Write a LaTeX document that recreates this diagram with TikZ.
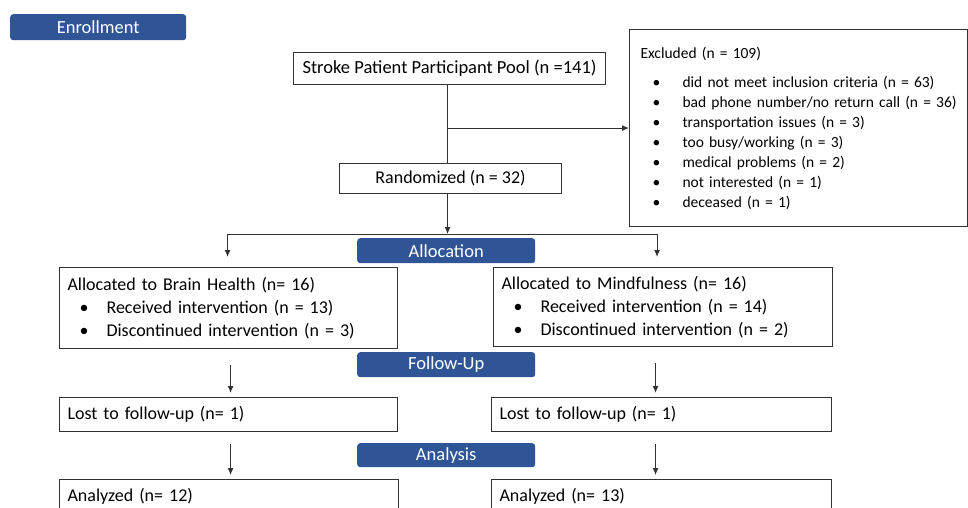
\documentclass[tikz,border=0pt]{standalone}
\usepackage{fontspec}
\setmainfont{Carlito}
\usepackage{tikz}
\usetikzlibrary{calc,positioning,arrows.meta}
\definecolor{bannerblue}{RGB}{47,85,151}
\definecolor{linegray}{RGB}{50,50,50}
\tikzset{%
  >={Latex[length=7pt,width=6pt]},
  box/.style    = {rectangle, draw=linegray, line width=1.1pt, anchor=north west, inner xsep=8pt, inner ysep=0pt, align=left, font=\fontsize{18}{23}\selectfont},
  banner/.style = {rectangle, rounded corners=3pt, fill=bannerblue, text=white, anchor=north west, inner sep=0pt, font=\fontsize{18.5}{20}\selectfont},
  line/.style   = {draw=linegray, line width=1.1pt}
}
\newcommand{\bitem}[2]{\mbox{\makebox[#1][l]{\hspace{12pt}\textbullet}#2}}

\begin{document}
\begin{tikzpicture}[x=1pt,y=-1pt]
	\useasboundingbox (0,0) rectangle (968,508);
	\clip (0,0) rectangle (968,508);

	% stage banners
	\node[banner,minimum width=176pt,minimum height=26pt] (enroll) at (10,14) {Enrollment};
	\node[banner,minimum width=178pt,minimum height=25pt] (alloc) at (357,238) {Allocation};
	\node[banner,minimum width=178pt,minimum height=25pt] (follow) at (357,352) {Follow-Up};
	\node[banner,minimum width=178pt,minimum height=24pt] (analysis) at (357,443) {Analysis};

	% enrollment
	\node[box,align=center,minimum width=312pt,minimum height=32pt,font=\fontsize{18.5}{23}\selectfont] (pool) at (293,52) {Stroke Patient Participant Pool (n =141)};
	\node[box,inner xsep=11pt,text width=316pt,minimum height=197pt,font=\fontsize{15.5}{20}\selectfont] (excl) at (629,29) {%
		Excluded (n = 109)\\[9pt]
		\bitem{42pt}{did not meet inclusion criteria (n = 63)}\\
		\bitem{42pt}{bad phone number/no return call (n = 36)}\\
		\bitem{42pt}{transportation issues (n = 3)}\\
		\bitem{42pt}{too busy/working (n = 3)}\\
		\bitem{42pt}{medical problems (n = 2)}\\
		\bitem{42pt}{not interested (n = 1)}\\
		\bitem{42pt}{deceased (n = 1)}};
	\node[box,align=center,minimum width=222pt,minimum height=30pt] (rand) at (339,163) {Randomized (n = 32)};

	% allocation
	\node[box,text width=322pt,minimum height=81pt] (brain) at (59,267) {%
		Allocated to Brain Health (n= 16)\\
		\bitem{39pt}{Received intervention (n = 13)}\\
		\bitem{39pt}{Discontinued intervention (n = 3)}};
	\node[box,text width=323pt,minimum height=79pt] (mind) at (493,267) {%
		Allocated to Mindfulness (n= 16)\\
		\bitem{39pt}{Received intervention (n = 14)}\\
		\bitem{39pt}{Discontinued intervention (n = 2)}};

	% follow-up and analysis
	\node[box,text width=322pt,minimum height=34pt] (lostL) at (59,397) {Lost to follow-up (n= 1)};
	\node[box,text width=324pt,minimum height=34pt] (lostR) at (491,397) {Lost to follow-up (n= 1)};
	\node[box,text width=323pt,minimum height=34pt] (anaL) at (59,479) {Analyzed (n= 12)};
	\node[box,text width=324pt,minimum height=34pt] (anaR) at (491,479) {Analyzed (n= 13)};

	\coordinate (split) at ($(rand.south)+(0,40)$);
	\coordinate (colL) at ([xshift=2pt]lostL.north);
	\coordinate (colR) at ([xshift=-6pt]lostR.north);

	\begin{scope}[line]
	\draw ([xshift=-2pt]pool.south) -- ([xshift=-3pt]rand.north);
	\draw[->] ([xshift=-2pt]pool.south |- excl.west) -- (excl.west);
	\draw[->] ([xshift=-3pt]rand.south) -- ([xshift=-3pt]split);
	\draw[->,shorten >=10pt] ([xshift=-3pt]split) -| ([xshift=-1pt]brain.north);
	\draw[->,shorten >=10pt] ([xshift=-3pt]split) -| ([xshift=-6pt]mind.north);
	\draw[->] ([yshift=-16pt]colL |- brain.south) -- ([yshift=4pt]colL);
	\draw[->] ([yshift=-16pt]colR |- mind.south) -- ([yshift=4pt]colR);
	\draw[->] ([yshift=-12pt]colL |- lostL.south) -- ([yshift=4pt]colL |- anaL.north);
	\draw[->] ([yshift=-12pt]colR |- lostR.south) -- ([yshift=4pt]colR |- anaR.north);
	\end{scope}
\end{tikzpicture}
\end{document}
